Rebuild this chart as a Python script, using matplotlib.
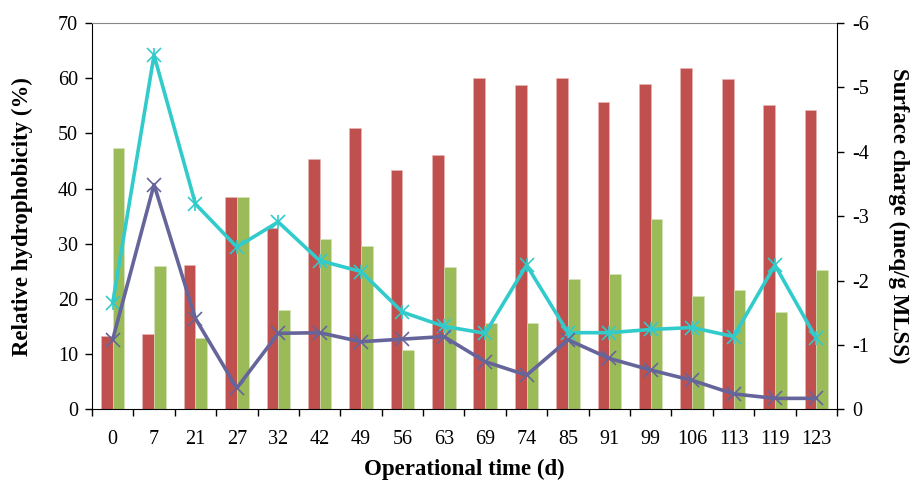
import matplotlib
matplotlib.use("Agg")
import matplotlib.pyplot as plt
import numpy as np

days = ["0", "7", "21", "27", "32", "42", "49", "56", "63", "69",
        "74", "85", "91", "99", "106", "113", "119", "123"]

# relative hydrophobicity (%)
hydro_red = [13.2, 13.6, 26.2, 38.5, 32.8, 45.3, 51.0, 43.3, 46.0, 60.0,
             58.8, 60.0, 55.6, 59.0, 61.9, 59.9, 55.2, 54.3]
hydro_green = [47.3, 26.0, 12.9, 38.4, 18.0, 30.8, 29.6, 10.8, 25.7, 15.7,
               15.7, 23.7, 24.5, 34.5, 20.6, 21.7, 17.6, 25.2]

# surface charge (meq/g MLSS)
charge_cyan = [-1.65, -5.50, -3.19, -2.52, -2.91, -2.31, -2.14, -1.51, -1.29, -1.18,
               -2.24, -1.19, -1.19, -1.24, -1.27, -1.13, -2.24, -1.10]
charge_purple = [-1.08, -3.49, -1.41, -0.33, -1.18, -1.19, -1.05, -1.09, -1.13, -0.74,
                 -0.53, -1.08, -0.79, -0.61, -0.45, -0.24, -0.17, -0.17]

plt.rcParams["font.family"] = ["Liberation Serif", "DejaVu Serif"]
plt.rcParams["axes.unicode_minus"] = False
plt.rcParams["font.size"] = 14.5

red = "#C0504D"
green = "#9BBB59"
cyan = "#31CBCB"
purple = "#65659B"

fig = plt.figure(figsize=(9.14, 4.82), dpi=100)
ax = fig.add_axes([0.1006, 0.1508, 0.8152, 0.8015])

x = np.arange(len(days))
w = 0.283
ax.bar(x - w / 2, hydro_red, w, color=red, edgecolor="#E8B8B6", linewidth=0.4, zorder=2)
ax.bar(x + w / 2, hydro_green, w, color=green, edgecolor="#D7E4BE", linewidth=0.4, zorder=2)

ax.set_xlim(-0.5, len(days) - 0.5)
ax.set_ylim(0, 70)
ax.set_yticks(range(0, 71, 10))
ax.set_xticks(x)
ax.set_xticklabels(days)
ax.set_xticks(np.arange(-0.5, len(days), 1), minor=True)
ax.tick_params(axis="x", which="major", length=0, pad=15)
ax.tick_params(axis="x", which="minor", length=5, direction="out", width=1)
ax.tick_params(axis="y", direction="out", length=5, width=1, pad=5)
ax.set_ylabel("Relative hydrophobicity (%)", fontweight="bold", fontsize=16.5, labelpad=18)
ax.set_xlabel("Operational time (d)", fontweight="bold", fontsize=16.5, labelpad=7)
ax.spines["top"].set_color("#888888")
ax.spines["right"].set_visible(False)

ax2 = ax.twinx()
ax2.set_ylim(0, -6)
ax2.set_yticks(range(0, -7, -1))
ax2.set_yticklabels([str(v) for v in range(0, -7, -1)])
ax2.plot(x, charge_cyan, color=cyan, lw=2.6, marker="x", ms=10, mew=1.2, zorder=3)
ax2.plot(x, charge_cyan, color=cyan, lw=0, marker="|", ms=10, mew=1.2, zorder=3)
ax2.plot(x, charge_purple, color=purple, lw=2.6, marker="x", ms=10, mew=1.2, zorder=3)
ax2.tick_params(axis="y", direction="out", length=5, width=1, pad=6)
ax2.set_ylabel("Surface charge (meq/g MLSS)", fontweight="bold", fontsize=16.5,
               rotation=270, labelpad=29)
ax2.spines["top"].set_visible(False)
ax2.spines["left"].set_visible(False)
ax2.spines["bottom"].set_visible(False)

fig.savefig("out.png", dpi=100)
